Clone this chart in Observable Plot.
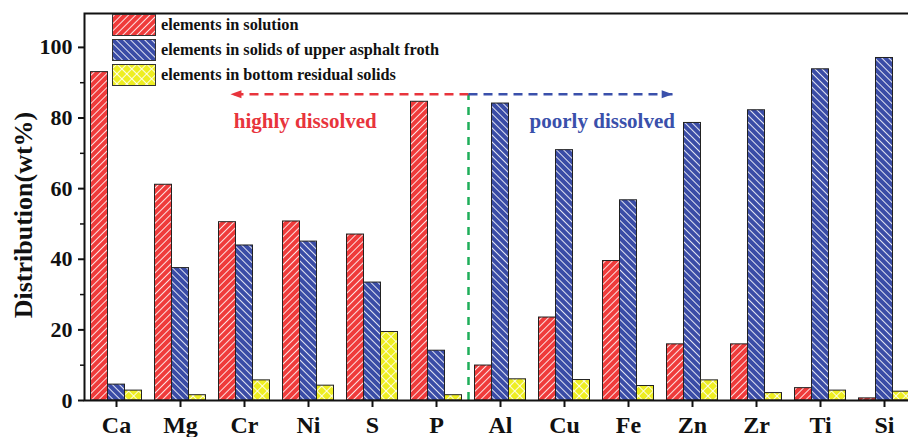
<!DOCTYPE html>
<html><head><meta charset="utf-8">
<script src="https://cdn.jsdelivr.net/npm/d3@7"></script>
<script src="https://cdn.jsdelivr.net/npm/@observablehq/plot@0.6"></script>
<style>
html,body{margin:0;padding:0;overflow:hidden;background:#fff;}
#wrap{position:relative;width:908px;height:437px;overflow:hidden;}
#legend{position:absolute;left:112px;top:14px;font-family:"Liberation Serif","Times New Roman",serif;font-weight:bold;font-size:16.3px;color:#111;}
.row{display:flex;align-items:center;height:22px;margin-bottom:3px;white-space:nowrap;}
.row svg{margin-right:5px;display:block;}
</style></head><body><div id="wrap"></div>
<script>
// ---- data ----
const elements = ["Ca","Mg","Cr","Ni","S","P","Al","Cu","Fe","Zn","Zr","Ti","Si"];
const seriesNames = ["elements in solution","elements in solids of upper asphalt froth","elements in bottom residual solids"];
const solution = [93.0,61.1,50.5,50.7,47.0,84.6,9.9,23.5,39.5,15.9,15.9,3.5,0.6];
const froth    = [4.5,37.5,43.9,45.0,33.4,14.1,84.1,70.9,56.7,78.6,82.2,93.8,97.0];
const residual = [2.8,1.5,5.7,4.2,19.4,1.5,6.0,5.8,4.1,5.7,2.1,2.8,2.5];
const yTicks = [0,20,40,60,80,100];
const yMinorTicks = [10,30,50,70,90];
const yLabel = "Distribution(wt%)";
const regionLabels = ["highly dissolved","poorly dissolved"];
const regionBoundary = 5.5;          // between P and Al (category index units)
const regionArrowEnds = [1.78, 8.69];
const regionLabelX = [2.95, 7.59];
const arrowLevel = 86.7;
const labelLevel = 79.2;

// ---- styles ----
const fills = ["#ef3b3b","#3a4ca6","#eeee22"];
const patternIds = ["pRed","pBlue","pYellow"];
const regionColors = ["#e8343c","#3a50ab"];
const groupOffset = [-17/64, 0, 17/64];
const halfBar = 8.5/64;
const serif = '"Liberation Serif","Times New Roman",serif';

const seriesValues = [solution, froth, residual];
const rows = seriesValues.map(vals => vals.map((v, i) => ({i, v})));

function patternDefs() {
  const defs = d3.create("svg:defs");
  function mk(id, bg, angle, size, cross) {
    const p = defs.append("pattern").attr("id", id).attr("patternUnits", "userSpaceOnUse")
      .attr("width", size).attr("height", size).attr("patternTransform", `rotate(${angle})`);
    p.append("rect").attr("width", size).attr("height", size).attr("fill", bg);
    p.append("line").attr("x1", size/2).attr("x2", size/2).attr("y1", 0).attr("y2", size)
      .attr("stroke", "white").attr("stroke-width", 1).attr("stroke-opacity", 0.85);
    if (cross) p.append("line").attr("y1", size/2).attr("y2", size/2).attr("x1", 0).attr("x2", size)
      .attr("stroke", "white").attr("stroke-width", 1).attr("stroke-opacity", 0.85);
  }
  mk("pRed", fills[0], 45, 5, false);
  mk("pBlue", fills[1], -45, 5, false);
  mk("pYellow", fills[2], 45, 7, true);
  return defs.node();
}

const leftTri = {draw(ctx) { ctx.moveTo(0,0); ctx.lineTo(11,-4); ctx.lineTo(11,4); ctx.closePath(); }};
const rightTri = {draw(ctx) { ctx.moveTo(0,0); ctx.lineTo(-11,-4); ctx.lineTo(-11,4); ctx.closePath(); }};

const barMarks = rows.map((data, s) => Plot.rectY(data, {
  x1: d => d.i + groupOffset[s] - halfBar,
  x2: d => d.i + groupOffset[s] + halfBar,
  y1: 0, y2: "v",
  fill: `url(#${patternIds[s]})`, stroke: "#222", strokeWidth: 1
}));

const chart = Plot.plot({
  width: 921, height: 437,
  marginLeft: 84, marginRight: 5, marginTop: 13, marginBottom: 37,
  style: {fontFamily: serif, maxWidth: "none", background: "white", color: "#111"},
  x: {domain: [-0.5, 12.5], axis: null},
  y: {domain: [0, 109.6], axis: null},
  marks: [
    patternDefs,
    ...barMarks,
    Plot.ruleX([regionBoundary], {y1: 0, y2: arrowLevel, stroke: "#1fae5a", strokeWidth: 2.5, strokeDasharray: "8,7"}),
    Plot.link(regionArrowEnds, {x1: regionBoundary, x2: d => d, y1: arrowLevel, y2: arrowLevel,
      stroke: (d, i) => regionColors[i], strokeWidth: 2.5, strokeDasharray: "9,6"}),
    Plot.dot([regionArrowEnds[0]], {x: d => d, y: arrowLevel, symbol: leftTri, fill: regionColors[0], stroke: "none"}),
    Plot.dot([regionArrowEnds[1]], {x: d => d, y: arrowLevel, symbol: rightTri, fill: regionColors[1], stroke: "none"}),
    Plot.text([regionLabels[0]], {x: regionLabelX[0], y: labelLevel, text: d => d, fill: regionColors[0], fontSize: 21, fontWeight: "bold", lineAnchor: "middle"}),
    Plot.text([regionLabels[1]], {x: regionLabelX[1], y: labelLevel, text: d => d, fill: regionColors[1], fontSize: 21, fontWeight: "bold", lineAnchor: "middle"}),
    Plot.axisY(yTicks, {tickSize: 6, tickPadding: 6, fontSize: 22, fontWeight: "bold", label: null, strokeWidth: 2, fill: "#111"}),
    Plot.axisY(yMinorTicks, {tickSize: 4, tickFormat: () => "", label: null, strokeWidth: 1.5}),
    Plot.axisX(elements.map((_, i) => i), {tickFormat: i => elements[i], tickSize: 7, tickPadding: 8, fontSize: 24, fontWeight: "bold", label: null, strokeWidth: 2, fill: "#111"}),
    Plot.frame({stroke: "#111", strokeWidth: 2}),
    Plot.text([yLabel], {text: d => d, frameAnchor: "left", textAnchor: "middle", lineAnchor: "middle", dx: -61, dy: 8, rotate: -90, fontSize: 26, fontWeight: "bold", fill: "#111"})
  ]
});
document.getElementById("wrap").append(chart);

const legend = document.createElement("div");
legend.id = "legend";
legend.innerHTML = seriesNames.map((name, s) =>
  `<div class="row"><svg width="44" height="22"><rect x="0.5" y="0.5" width="43" height="21" fill="url(#${patternIds[s]})" stroke="#333" stroke-width="1"/></svg><span>${name}</span></div>`
).join("");
document.getElementById("wrap").append(legend);
</script>
</body></html>
